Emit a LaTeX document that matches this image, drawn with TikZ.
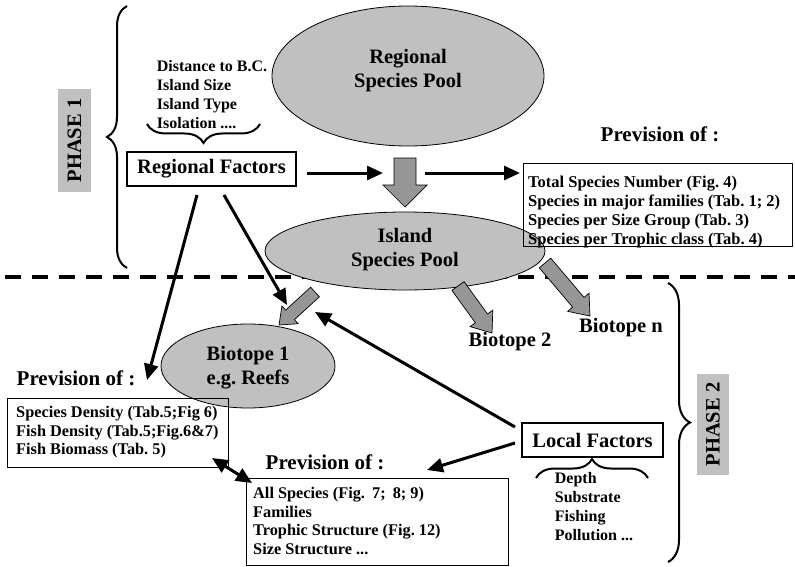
\documentclass[tikz,border=0pt]{standalone}
\usepackage{fontspec}
\setmainfont{Liberation Serif}
\usetikzlibrary{shapes.geometric,arrows.meta,calc,decorations.pathreplacing}
\definecolor{ellgray}{RGB}{192,192,192}
\definecolor{arrgray}{RGB}{150,150,150}
\newcommand{\blockarrow}[5]{%
  \coordinate (tmpH) at ($(#2)!#5!(#1)$);
  \draw[garrow] ($(#1)!#3!90:(#2)$) -- ($(tmpH)!#3!90:(#2)$) -- ($(tmpH)!#4!90:(#2)$) -- (#2)
    -- ($(tmpH)!#4!-90:(#2)$) -- ($(tmpH)!#3!-90:(#2)$) -- ($(#1)!#3!-90:(#2)$) -- cycle;}
\tikzset{
  big/.style={font=\bfseries\fontsize{20.5}{24}\selectfont, inner sep=0pt, align=center},
  head/.style={font=\bfseries\fontsize{21}{24}\selectfont, inner sep=0pt},
  small/.style={font=\bfseries\fontsize{16}{19}\selectfont, inner sep=0pt, align=left},
  pool/.style={ellipse, draw=black, line width=0.8pt, fill=ellgray, inner sep=0pt},
  factbox/.style={draw=black, line width=1.2pt, fill=white, inner sep=0pt},
  listbox/.style={draw=black, line width=1.2pt, inner sep=0pt, anchor=north west},
  listtext/.style={inner sep=0pt, anchor=west, align=left},
  phasebox/.style={fill=ellgray, inner sep=0pt, rotate=90, font=\bfseries\fontsize{20.5}{24}\selectfont},
  blk/.style={line width=3pt, -{Triangle[length=16pt,width=14pt]}},
  dblk/.style={line width=3pt, {Triangle[length=16pt,width=14pt]}-{Triangle[length=16pt,width=14pt]}},
  garrow/.style={fill=arrgray, draw=black, line width=0.7pt, line join=miter},
  bracestyle/.style={line width=2pt, decorate},
}
\begin{document}
\frenchspacing
\begin{tikzpicture}[x=1pt,y=-1pt]
\useasboundingbox (0,0) rectangle (795,567);

% dashed separator
\coordinate (dl) at (5,277);
\coordinate (dr) at (795,277);
\draw[line width=3.5pt, dash pattern=on 16pt off 11pt] (dl) -- (dr);

% braces
\coordinate (b1s) at (127,268); \coordinate (b1e) at (127,6);
\draw[bracestyle, decoration={brace, amplitude=20pt}] (b1s) -- (b1e);
\coordinate (b2s) at (668,283); \coordinate (b2e) at (668,562);
\draw[bracestyle, decoration={brace, amplitude=22pt}] (b2s) -- (b2e);
\coordinate (b3s) at (260,124); \coordinate (b3e) at (147,124);
\draw[bracestyle, decoration={brace, amplitude=19pt}] (b3s) -- (b3e);
\coordinate (b4s) at (536,478); \coordinate (b4e) at (648,478);
\draw[bracestyle, decoration={brace, amplitude=19pt}] (b4s) -- (b4e);

% phase labels
\node[phasebox, minimum width=103pt, minimum height=33pt] (ph1) at (74.5,140.5) {PHASE 1};
\node[phasebox, minimum width=101pt, minimum height=32pt] (ph2) at (713,424.5) {PHASE 2};

% pools
\node[pool, minimum width=272pt, minimum height=140pt] (rpool) at (408,76) {};
\node[big] (rpoolt) at (408,71) {Regional\\Species Pool};

% right list box
\node[head] (prev1) at (660,134) {Prevision of :};
\node[pool, minimum width=280pt, minimum height=78pt] (ipool) at (405,251) {};
\node[big] (ipoolt) at (405,250) {Island\\Species Pool};
\node[listbox, minimum width=269pt, minimum height=83pt] (box1) at (523,163) {};
\node[listtext, font=\bfseries\fontsize{16.5}{19}\selectfont] (box1t) at ($(box1.west)+(5,7)$)
  {Total Species Number (Fig. 4)\\Species in major families (Tab. 1; 2)\\Species per Size Group (Tab. 3)\\Species per Trophic class (Tab. 4)};

% regional factors
\node[small] (rfl) at (212,95) {Distance to B.C.\\Island Size\\Island Type\\Isolation ....};
\node[factbox, big, minimum width=169pt, minimum height=34pt] (rf) at (211.5,169) {Regional Factors};

% biotopes
\node[pool, minimum width=174pt, minimum height=84pt] (bt1) at (248,366) {};
\node[big] (bt1t) at (248,368) {Biotope 1\\e.g. Reefs};
\node[big] (bt2) at (510,342) {Biotope 2};
\node[big] (btn) at (621,328) {Biotope n};

% block arrows
\coordinate (ga1) at (405,158); \coordinate (gb1) at (405,207);
\blockarrow{ga1}{gb1}{11pt}{22pt}{22pt}
\coordinate (ga2) at (315,292); \coordinate (gb2) at (279,325);
\blockarrow{ga2}{gb2}{6.5pt}{12pt}{15pt}
\coordinate (ga3) at (458,286); \coordinate (gb3) at (492,333);
\blockarrow{ga3}{gb3}{7.5pt}{14pt}{18pt}
\coordinate (ga4) at (545,263); \coordinate (gb4) at (590,316);
\blockarrow{ga4}{gb4}{7.5pt}{14pt}{18pt}

% local factors
\node[factbox, big, minimum width=141pt, minimum height=34pt] (lf) at (592.5,440) {Local Factors};
\node[small] (lfl) at (594,507) {Depth\\Substrate\\Fishing\\Pollution ...};

% left prevision
\node[head] (prev2) at (76,378) {Prevision of :};
\node[listbox, minimum width=221pt, minimum height=69pt] (box2) at (7,398) {};
\node[listtext, font=\bfseries\fontsize{16.3}{18.6}\selectfont] (box2t) at ($(box2.west)+(9,-1)$)
  {Species Density (Tab.5;Fig 6)\\Fish Density (Tab.5;Fig.6\&7)\\Fish Biomass (Tab. 5)};

% bottom prevision
\node[head] (prev3) at (325,462) {Prevision of :};
\node[listbox, minimum width=262pt, minimum height=87pt] (box3) at (246,478) {};
\node[listtext, font=\bfseries\fontsize{16.3}{18.7}\selectfont] (box3t) at ($(box3.west)+(7,-1)$)
  {All Species (Fig.\hspace{3pt} 7;\hspace{3pt} 8; 9)\\Families\\Trophic Structure (Fig. 12)\\Size Structure ...};

% black arrows
\coordinate (r1) at (307,173); \coordinate (r2) at (383,173);
\draw[blk] (r1) -- (r2);
\coordinate (r3) at (425,173); \coordinate (r4) at (520,173);
\draw[blk] (r3) -- (r4);
\coordinate (a1s) at (197,195); \coordinate (a1e) at (147,380);
\draw[blk] (a1s) -- (a1e);
\coordinate (a2s) at (224,195); \coordinate (a2e) at (287,305);
\draw[blk] (a2s) -- (a2e);
\coordinate (a3s) at (515,427); \coordinate (a3e) at (315,312);
\draw[blk] (a3s) -- (a3e);
\coordinate (a4s) at (515,443); \coordinate (a4e) at (427,470);
\draw[blk] (a4s) -- (a4e);
\coordinate (d1) at (212,458); \coordinate (d2) at (252,483);
\draw[dblk] (d1) -- (d2);
\end{tikzpicture}
\end{document}
